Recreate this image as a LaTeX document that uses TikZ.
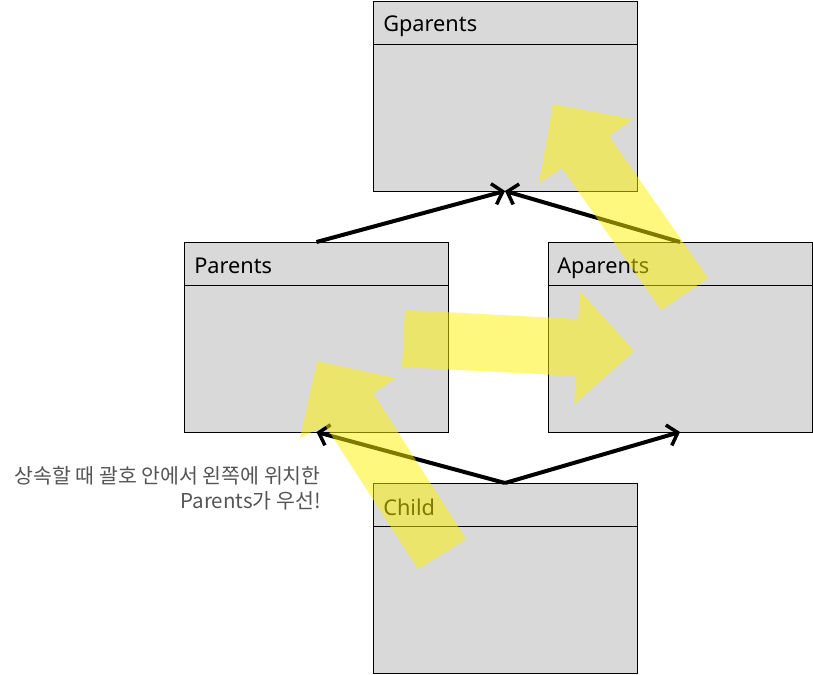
\documentclass[tikz,border=0pt]{standalone}
\usepackage{fontspec}
\setmainfont{Noto Sans}
\newfontfamily\krfont{Noto Sans CJK KR}
\usetikzlibrary{arrows.meta}
\definecolor{boxgrey}{HTML}{D9D9D9}
\definecolor{notegrey}{HTML}{555555}

\begin{document}
\begin{tikzpicture}[x=0.75pt,y=-0.75pt,
  cls/.style={draw=black,line width=0.6pt,fill=boxgrey,rectangle,
    minimum width=198pt,minimum height=142.5pt,inner sep=0pt,outer sep=0pt},
  ttl/.style={anchor=base west,inner sep=0pt,font=\fontsize{16.3}{19}\selectfont},
  conn/.style={-{Straight Barb[length=7pt,width=16pt,line width=2.6pt]},
    line width=3pt},
  hl/.style={fill=yellow,fill opacity=0.5,draw=none}]

  \useasboundingbox (0,0) rectangle (813,674);

  % class boxes
  \node[cls] (gp) at (505,96) {};
  \node[cls] (par) at (316.5,337) {};
  \node[cls] (apar) at (680,337) {};
  \node[cls] (ch) at (505,578) {};
  \foreach \b in {gp,par,apar,ch}
    \draw[line width=0.6pt] ([yshift=-32.5pt]\b.north west) -- ([yshift=-32.5pt]\b.north east);

  \node[ttl] (gpt) at (383,32) {Gparents};
  \node[ttl] (part) at (194,273) {Parents};
  \node[ttl] (apart) at (557,273) {Aparents};
  \node[ttl,text=black] (cht) at (383,515) {Child};

  % inheritance
  \draw[conn] (par.north) -- (gp.south);
  \draw[conn] (apar.north) -- (gp.south);
  \draw[conn] (ch.north) -- (par.south);
  \draw[conn] (ch.north) -- (apar.south);

  \node[anchor=north east,align=right,inner sep=0pt,text=notegrey,
    font=\krfont\fontsize{15.4}{18.75}\selectfont] (memo) at (321,466)
    {상속할 때 괄호 안에서 왼쪽에 위치한\\Parents가 우선!};

  % search order
  \fill[hl] (418,569) -- (466,539) -- (373,393) -- (396,378) -- (317,361)
    -- (300,438) -- (325,425) -- cycle;
  \fill[hl] (402,367) -- (576,376) -- (574,404) -- (634,351) -- (580,291)
    -- (578,319) -- (405,310) -- cycle;
  \fill[hl] (661,310) -- (708,278) -- (609,136) -- (633,119) -- (553,104)
    -- (539,183) -- (562,168) -- cycle;
\end{tikzpicture}
\end{document}
